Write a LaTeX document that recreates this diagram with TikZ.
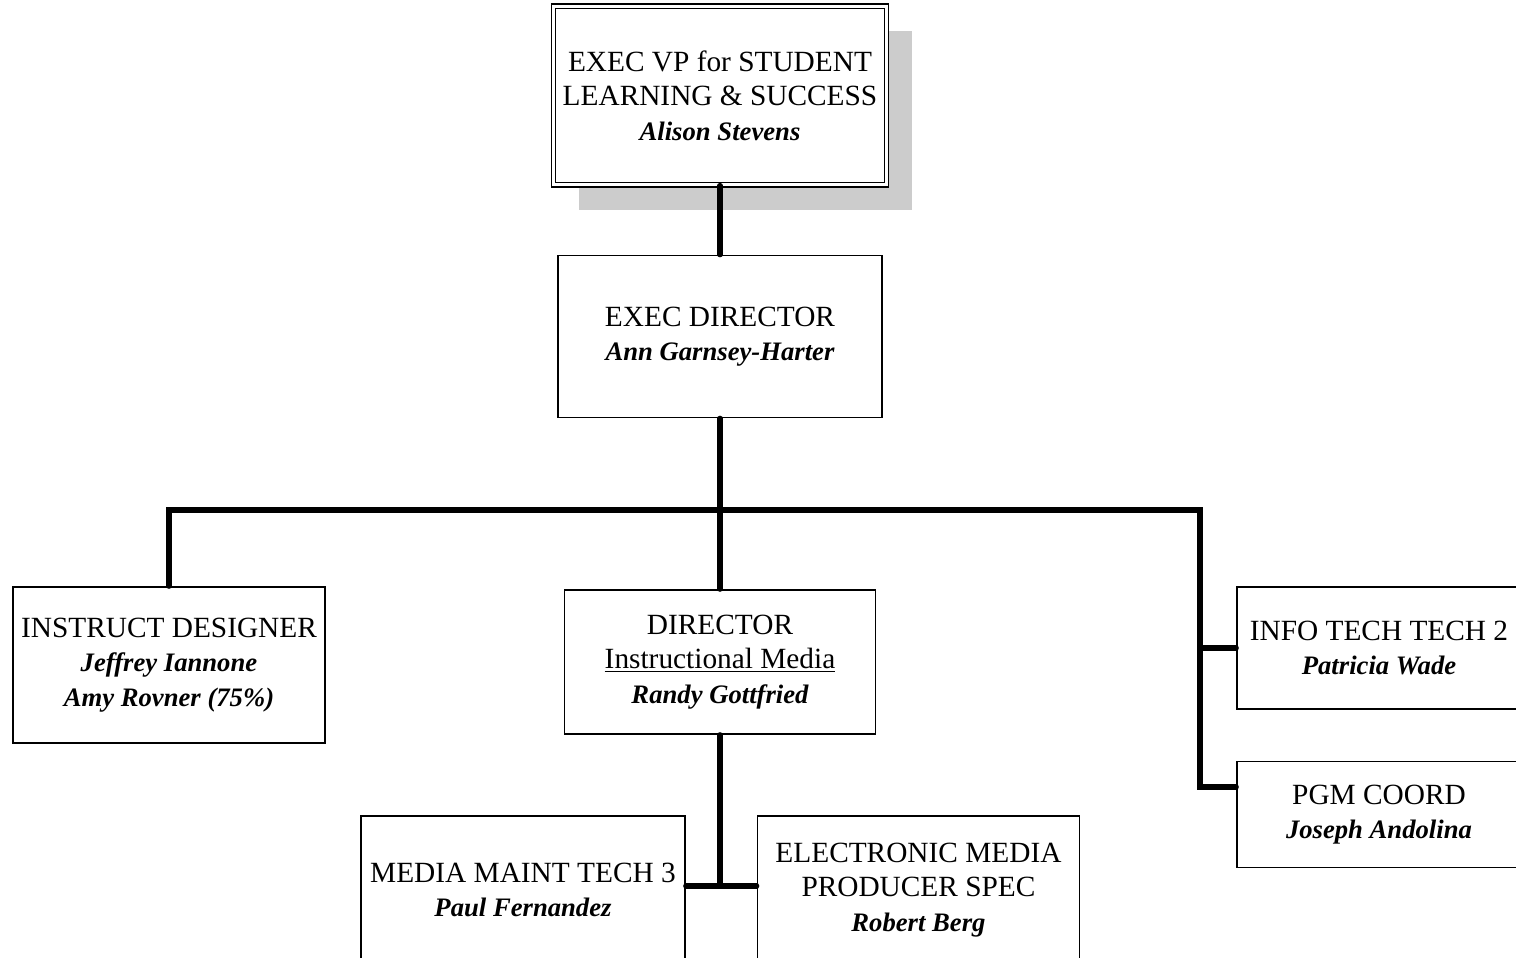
\documentclass[tikz,border=0pt]{standalone}
\usepackage{fontspec}
\setmainfont{Liberation Serif}
\usetikzlibrary{positioning, shadows}
\tikzstyle{post}=[rectangle, draw=black, line width=1.1pt, fill=white, align=center, inner sep=0pt, font=\fontsize{22}{26}\selectfont]
\tikzstyle{head}=[post, double, line width=0.9pt, double distance=2.4pt, drop shadow={shadow xshift=19pt, shadow yshift=-18.5pt, fill=black!20, opacity=1}]
\tikzstyle{link}=[line width=3.8pt, line cap=round]
\newcommand{\who}[1]{{\fontsize{20}{25}\selectfont\bfseries\itshape #1}}

\begin{document}
\begin{tikzpicture}[x=0.75pt, y=-0.75pt]
            \useasboundingbox (0,0) rectangle (1516,957);
            \clip (0,0) rectangle (1516,957);
            % top of the chart
            \node[head, minimum width=250pt, minimum height=134pt](vp) at (720,95.5)
                {EXEC VP for STUDENT\\LEARNING \& SUCCESS\\\who{Alison Stevens}};
            \node[post, minimum width=243pt, minimum height=121.5pt, below = 52pt of vp](ed)
                {EXEC DIRECTOR\\\who{Ann Garnsey-Harter}};
            % second row
            \node[post, minimum width=233.25pt, minimum height=108pt, below = 128.25pt of ed](dir)
                {DIRECTOR\\\underline{Instructional Media}\\\who{Randy Gottfried}};
            \node[post, minimum width=234pt, minimum height=117pt](ins) at (169,665)
                {INSTRUCT DESIGNER\\\who{Jeffrey Iannone}\\\who{Amy Rovner (75\%)}};
            \node[post, minimum width=213pt, minimum height=91.5pt](info) at (1379,648)
                {INFO TECH TECH 2\\\who{Patricia Wade}};
            \node[post, minimum width=213pt, minimum height=79.5pt, below = 38.25pt of info](pgm)
                {PGM COORD\\\who{Joseph Andolina}};
            % under the director
            \node[post, minimum width=243pt, minimum height=111pt](mmt) at (523,890)
                {MEDIA MAINT TECH 3\\\who{Paul Fernandez}};
            \node[post, minimum width=241.5pt, minimum height=111pt, right = 53.25pt of mmt](emp)
                {ELECTRONIC MEDIA\\PRODUCER SPEC\\\who{Robert Berg}};
            % connectors
            \coordinate (bar) at (720,510);
            \coordinate (pj) at (1200,787);
            \coordinate (dj) at (720,886);
            \draw[link] (vp.south) -- (ed.north);
            \draw[link] (ed.south) -- (bar);
            \draw[link] (bar) -| (ins.north);
            \draw[link] (bar) -- (dir.north);
            \draw[link] (bar) -| (pj) -- (pj -| pgm.west);
            \draw[link] (info.west -| pj) -- (info.west);
            \draw[link] (dir.south) -- (dj);
            \draw[link] (mmt.east |- dj) -- (emp.west |- dj);
        \end{tikzpicture}
\end{document}
